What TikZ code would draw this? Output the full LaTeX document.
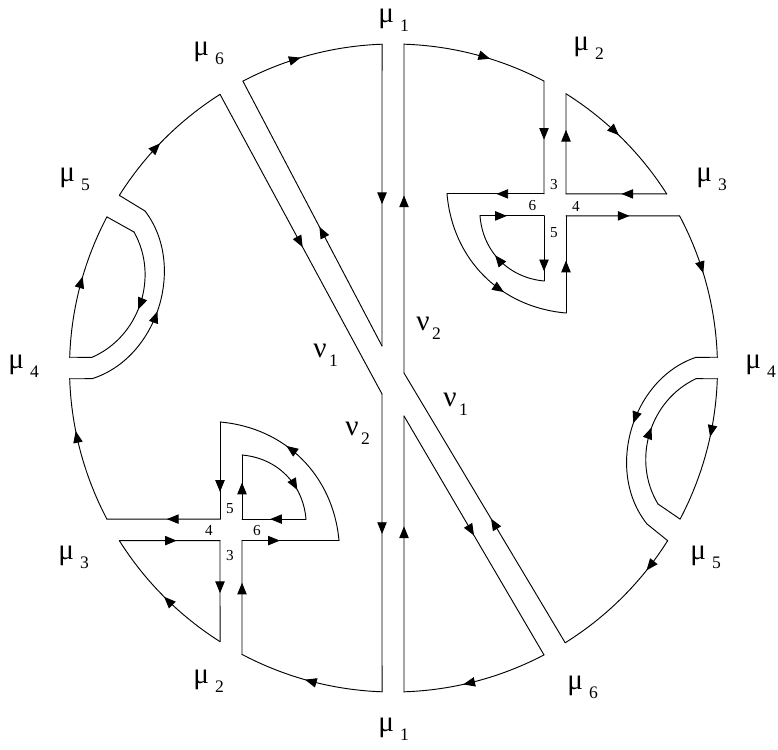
\documentclass[tikz,border=0pt]{standalone}
\usepackage{fontspec}
\setmainfont{Liberation Serif}
\usetikzlibrary{arrows.meta,decorations.markings,calc}

\tikzset{
    flow/.style={
        postaction={decorate,decoration={markings,
            mark=at position #1 with {\arrow{Triangle[length=10pt,width=8pt]}}}}
    },
    flow/.default=0.5,
    lab/.style={
        anchor=base west,
        inner sep=0pt,
        text height=0.5em,
        font=\fontsize{25}{27}\selectfont
    },
    num/.style={
        inner sep=0pt,
        font=\fontsize{13}{14}\selectfont
    }
}
\newcommand\mulab[1]{μ\hspace{5pt}\raisebox{-7.7pt}{\fontsize{15}{16}\selectfont #1}}
\newcommand\nulab[1]{ν\hspace{2pt}\raisebox{-7.7pt}{\fontsize{15}{16}\selectfont #1}}

\begin{document}
\begin{tikzpicture}[x=0.03cm,y=-0.03cm,line width=0.8pt,line cap=round]

\useasboundingbox (0,0) rectangle (778,749);

\coordinate (C) at (393.5,368);
\def\R{324}

% ends of the cuts on the rim
\foreach \n/\a in {mu1a/-92.03, mu1b/-88.14, mu6a/-117.7, mu6b/-122.37,
    mu5a/-147.8, mu5b/-152.2, mu4a/-178.1, mu4b/178.1,
    mu3a/152.2, mu3b/147.8, mu2a/122.37, mu2b/117.88,
    mu1c/92.03, mu1d/88.14, mu6c/62.32, mu6d/58.0,
    mu5c/32.2, mu5d/27.8, mu4c/1.9, mu4d/-1.9,
    mu3c/-28.0, mu3d/-32.5, mu2c/-57.83, mu2d/-62.32}
    \coordinate (\n) at ($(C)+(\a:\R)$);

% corners inside
\coordinate (c1) at (382,346);
\coordinate (c2) at (382,394);
\coordinate (c3) at (404,373);
\coordinate (c4) at (404,416);

\coordinate (bl1) at (220,422);
\coordinate (bl2) at (220,519.1);
\coordinate (bl3) at (242,540.6);
\coordinate (bl4) at (339,540.6);
\coordinate (bl5) at (242,455);
\coordinate (bl6) at (306,519.1);
\coordinate (bl7) at (242,519.1);
\coordinate (bl8) at (220,540.6);

\coordinate (tr1) at (544,193.9);
\coordinate (tr2) at (447,193.9);
\coordinate (tr3) at (566,313);
\coordinate (tr4) at (566,215.9);
\coordinate (tr5) at (480,215.9);
\coordinate (tr6) at (544,215.9);
\coordinate (tr7) at (544,281);
\coordinate (tr8) at (566,193.9);

\coordinate (lb1) at (92,378.7);
\coordinate (lb2) at (145,211);
\coordinate (lb3) at (134,232);
\coordinate (lb4) at (92,357.3);
\coordinate (rb1) at (696,357.3);
\coordinate (rb2) at (647,524);
\coordinate (rb3) at (658,504);
\coordinate (rb4) at (696,378.7);

% top-left sector
\draw[flow=0.43] (mu6a) arc[start angle=-117.7,end angle=-92.03,radius=\R];
\draw[flow=0.53] (mu1a) -- (c1);
\draw[flow=0.45] (c1) -- (mu6a);

% left region
\draw[flow=0.51] (mu6b) -- (c2);
\draw[flow=0.47] (c2) -- (mu1c);
\draw[flow=0.535] (mu1c) arc[start angle=92.03,end angle=117.88,radius=\R];
\draw[flow=0.63] (mu2b) -- (bl3);
\draw[flow=0.39] (bl3) -- (bl4);
\draw[flow=0.61] (bl4) to[bend right=40] (bl1);
\draw[flow=0.72] (bl1) -- (bl2);
\draw[flow=0.47] (bl2) -- (mu3a);
\draw[flow=0.64] (mu3a) arc[start angle=152.2,end angle=178.1,radius=\R];
\draw (mu4b) -- (lb1);
\draw[flow=0.48] (lb1) to[bend right=55] (lb2);
\draw (lb2) -- (mu5a);
\draw[flow=0.46] (mu5a) arc[start angle=-147.8,end angle=-122.37,radius=\R];

% left eye
\draw[flow=0.56] (mu4a) arc[start angle=-178.1,end angle=-152.2,radius=\R];
\draw (mu5b) -- (lb3);
\draw[flow=0.54] (lb3) to[bend left=48] (lb4);
\draw (lb4) -- (mu4a);

% lower-left cross, inner piece
\draw[flow=0.57] (bl7) -- (bl5);
\draw[flow=0.69] (bl5) to[bend left=40] (bl6);
\draw[flow=0.56] (bl6) -- (bl7);

% lower-left cross, rim piece
\draw[flow=0.57] (mu3b) -- (bl8);
\draw[flow=0.52] (bl8) -- (mu2a);
\draw[flow=0.5] (mu2a) arc[start angle=122.37,end angle=147.8,radius=\R];

% bottom-right sector
\draw[flow=0.6] (mu1d) -- (c4);
\draw[flow=0.5] (c4) -- (mu6c);
\draw[flow=0.59] (mu6c) arc[start angle=62.32,end angle=88.14,radius=\R];

% right region
\draw[flow=0.6] (mu1b) arc[start angle=-88.14,end angle=-62.32,radius=\R];
\draw[flow=0.52] (mu2d) -- (tr1);
\draw[flow=0.49] (tr1) -- (tr2);
\draw[flow=0.64] (tr2) to[bend right=40] (tr3);
\draw[flow=0.54] (tr3) -- (tr4);
\draw[flow=0.56] (tr4) -- (mu3c);
\draw[flow=0.42] (mu3c) arc[start angle=-28,end angle=-1.9,radius=\R];
\draw (mu4d) -- (rb1);
\draw[flow=0.47] (rb1) to[bend right=55] (rb2);
\draw (rb2) -- (mu5c);
\draw[flow=0.25] (mu5c) arc[start angle=32.2,end angle=58,radius=\R];
\draw[flow=0.46] (mu6d) -- (c3);
\draw[flow=0.54] (c3) -- (mu1b);

% right eye
\draw (rb4) -- (mu4c);
\draw[flow=0.4] (mu4c) arc[start angle=1.9,end angle=27.8,radius=\R];
\draw (mu5d) -- (rb3);
\draw[flow=0.54] (rb3) to[bend left=48] (rb4);

% upper-right cross, rim piece
\draw[flow=0.47] (mu2c) arc[start angle=-57.83,end angle=-32.5,radius=\R];
\draw[flow=0.45] (mu3d) -- (tr8);
\draw[flow=0.64] (tr8) -- (mu2c);

% upper-right cross, inner piece
\draw[flow=0.42] (tr5) -- (tr6);
\draw[flow=0.85] (tr6) -- (tr7);
\draw[flow=0.57] (tr7) to[bend left=40] (tr5);

% labels
\node[lab] (m1top) at (378,22) {\mulab{1}};
\node[lab] (m6top) at (193,55.5) {\mulab{6}};
\node[lab] (m2top) at (573,50) {\mulab{2}};
\node[lab] (m5lft) at (59,181) {\mulab{5}};
\node[lab] (m3rgt) at (696,181) {\mulab{3}};
\node[lab] (m4lft) at (8,368) {\mulab{4}};
\node[lab] (m4rgt) at (745,368) {\mulab{4}};
\node[lab] (m3lft) at (58,559) {\mulab{3}};
\node[lab] (m5rgt) at (690,559) {\mulab{5}};
\node[lab] (m2bot) at (193,683) {\mulab{2}};
\node[lab] (m6bot) at (567,689) {\mulab{6}};
\node[lab] (m1bot) at (378,731) {\mulab{1}};

\node[lab] (n1up) at (313,357) {\nulab{1}};
\node[lab] (n2up) at (416,330) {\nulab{2}};
\node[lab] (n1lo) at (443,406.5) {\nulab{1}};
\node[lab] (n2lo) at (345,435) {\nulab{2}};

% numbers in the crosses
\node[num] (tr3n) at (554,184.5) {3};
\node[num] (tr6n) at (532.5,206) {6};
\node[num] (tr4n) at (576,206) {4};
\node[num] (tr5n) at (554,232.5) {5};
\node[num] (bl5n) at (230,509) {5};
\node[num] (bl4n) at (209,530.5) {4};
\node[num] (bl6n) at (257,530.5) {6};
\node[num] (bl3n) at (230,556) {3};

\end{tikzpicture}
\end{document}
